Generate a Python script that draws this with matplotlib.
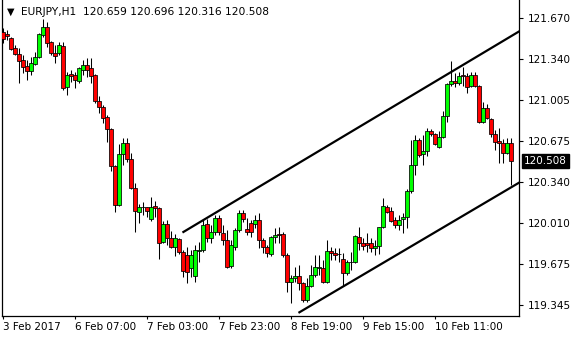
import numpy as np
import matplotlib
matplotlib.use('Agg')
import matplotlib.pyplot as plt
import matplotlib.transforms as mtransforms

symbol = 'EURJPY,H1'

# hourly bars
opens = [121.557, 121.540, 121.508, 121.427, 121.378, 121.330, 121.281, 121.241, 121.297, 121.354,
         121.532, 121.597, 121.476, 121.387, 121.387, 121.443, 121.111, 121.216, 121.208, 121.160,
         121.249, 121.289, 121.265, 121.208, 120.998, 120.949, 120.868, 120.771, 120.471, 120.155,
         120.568, 120.657, 120.528, 120.293, 120.098, 120.139, 120.139, 120.041, 120.147, 120.130,
         119.855, 120.001, 119.887, 119.814, 119.879, 119.774, 119.750, 119.644, 119.579, 119.782,
         119.790, 120.001, 119.887, 119.936, 120.049, 119.928, 119.871, 119.660, 119.814, 119.952,
         120.090, 119.960, 120.009, 120.001, 120.033, 119.871, 119.814, 119.758, 119.895, 119.920,
         119.920, 119.750, 119.531, 119.563, 119.579, 119.523, 119.385, 119.498, 119.587, 119.644,
         119.644, 119.531, 119.782, 119.766, 119.758, 119.717, 119.604, 119.693, 119.693, 119.895,
         119.847, 119.847, 119.847, 119.806, 119.822, 119.976, 120.139, 120.106, 120.033, 119.993,
         120.041, 120.058, 120.268, 120.479, 120.681, 120.568, 120.592, 120.754, 120.730, 120.625,
         120.706, 120.876, 121.135, 121.160, 121.143, 121.208, 121.200, 121.119, 121.208, 121.119,
         120.827, 120.941, 120.852, 120.730, 120.673, 120.657, 120.576, 120.659]
highs = [121.589, 121.573, 121.516, 121.451, 121.427, 121.370, 121.330, 121.354, 121.395, 121.549,
         121.662, 121.638, 121.484, 121.451, 121.476, 121.476, 121.233, 121.249, 121.233, 121.273,
         121.330, 121.346, 121.346, 121.216, 121.038, 120.965, 120.884, 120.779, 120.479, 120.649,
         120.698, 120.698, 120.576, 120.333, 120.163, 120.179, 120.141, 120.220, 120.187, 120.139,
         120.025, 120.033, 119.944, 119.920, 119.887, 119.790, 119.814, 119.790, 119.831, 119.855,
         120.033, 120.041, 119.993, 120.074, 120.074, 119.993, 119.952, 119.871, 119.968, 120.114,
         120.114, 120.049, 120.033, 120.074, 120.090, 119.887, 119.831, 119.904, 119.968, 119.976,
         119.936, 119.766, 119.587, 119.652, 119.669, 119.531, 119.563, 119.669, 119.750, 119.750,
         119.709, 119.871, 119.814, 119.806, 119.806, 119.766, 119.709, 119.774, 119.912, 119.976,
         119.887, 119.928, 119.887, 119.871, 119.976, 120.211, 120.155, 120.139, 120.058, 120.074,
         120.090, 120.284, 120.681, 120.722, 120.698, 120.722, 120.779, 120.771, 120.738, 120.754,
         120.916, 121.143, 121.322, 121.224, 121.233, 121.273, 121.224, 121.233, 121.233, 121.127,
         120.989, 120.973, 120.860, 120.763, 120.779, 120.690, 120.698, 120.696]
lows = [121.468, 121.492, 121.411, 121.370, 121.143, 121.224, 121.168, 121.208, 121.289, 121.346,
        121.516, 121.435, 121.370, 121.305, 121.370, 121.087, 121.046, 121.151, 121.103, 121.143,
        121.208, 121.192, 121.143, 120.981, 120.900, 120.819, 120.665, 120.430, 120.098, 120.147,
        120.479, 120.503, 120.284, 119.936, 120.009, 120.074, 120.058, 120.025, 120.058, 119.717,
        119.847, 119.831, 119.806, 119.741, 119.758, 119.571, 119.523, 119.571, 119.531, 119.693,
        119.774, 119.855, 119.847, 119.912, 119.912, 119.831, 119.644, 119.644, 119.790, 119.936,
        120.017, 119.912, 119.895, 119.968, 119.806, 119.766, 119.733, 119.741, 119.847, 119.847,
        119.733, 119.450, 119.361, 119.531, 119.466, 119.369, 119.369, 119.490, 119.571, 119.587,
        119.523, 119.523, 119.709, 119.709, 119.693, 119.498, 119.587, 119.628, 119.685, 119.790,
        119.790, 119.774, 119.774, 119.750, 119.758, 119.968, 120.090, 120.017, 119.968, 119.952,
        119.928, 119.968, 120.252, 120.398, 120.544, 120.479, 120.552, 120.714, 120.641, 120.617,
        120.698, 120.827, 121.119, 121.111, 121.127, 121.119, 121.062, 121.111, 121.111, 120.819,
        120.819, 120.852, 120.706, 120.600, 120.495, 120.495, 120.568, 120.316]
closes = [121.500, 121.524, 121.419, 121.378, 121.322, 121.273, 121.241, 121.305, 121.354, 121.540,
          121.597, 121.468, 121.387, 121.362, 121.451, 121.103, 121.208, 121.200, 121.168, 121.265,
          121.289, 121.249, 121.200, 120.998, 120.949, 120.860, 120.771, 120.471, 120.155, 120.568,
          120.657, 120.528, 120.293, 120.106, 120.139, 120.139, 120.106, 120.139, 120.130, 119.847,
          120.001, 119.887, 119.814, 119.887, 119.774, 119.620, 119.612, 119.750, 119.790, 119.790,
          119.993, 119.887, 119.936, 120.049, 119.936, 119.871, 119.652, 119.831, 119.952, 120.090,
          120.041, 119.936, 119.936, 120.033, 119.871, 119.814, 119.766, 119.895, 119.912, 119.912,
          119.750, 119.531, 119.563, 119.579, 119.523, 119.385, 119.498, 119.587, 119.652, 119.652,
          119.531, 119.782, 119.766, 119.750, 119.758, 119.604, 119.693, 119.693, 119.904, 119.847,
          119.822, 119.831, 119.806, 119.822, 119.976, 120.147, 120.098, 120.025, 119.993, 120.033,
          120.058, 120.268, 120.479, 120.681, 120.560, 120.592, 120.754, 120.730, 120.649, 120.706,
          120.876, 121.135, 121.160, 121.143, 121.200, 121.200, 121.111, 121.208, 121.119, 120.827,
          120.941, 120.860, 120.730, 120.665, 120.657, 120.576, 120.657, 120.508]

xtick_bars = [0, 18, 36, 54, 72, 90, 108]
xtick_labels = ['3 Feb 2017', '6 Feb 07:00', '7 Feb 03:00', '7 Feb 23:00',
                '8 Feb 19:00', '9 Feb 15:00', '10 Feb 11:00']
ytick_values = [121.670, 121.340, 121.005, 120.675, 120.340, 120.010, 119.675, 119.345]

# channel lines (bar index, price)
upper_bars = [45.1, 129.0]
upper_prices = [119.936, 121.561]
lower_bars = [74.1, 129.3]
lower_prices = [119.285, 120.341]

W, H = 580, 340
fig = plt.figure(figsize=(W / 100, H / 100), dpi=100)
ax = fig.add_axes([2 / W, 24 / H, 517 / W, 316 / H])

o = np.array(opens)
c = np.array(closes)
x = np.arange(len(o))
bull = c >= o

ax.vlines(x, lows, highs, color='black', lw=0.75, zorder=2)
body_colors = np.where(bull, '#00ff00', '#ff0000')
ax.bar(x, np.abs(c - o), bottom=np.minimum(o, c), width=0.8,
       color=body_colors, edgecolor='black', linewidth=0.55, zorder=3)

ax.plot(upper_bars, upper_prices, color='black', lw=1.6, zorder=4)
ax.plot(lower_bars, lower_prices, color='black', lw=1.6, zorder=4)

ax.set_xlim(-0.25, 129)
ax.set_ylim(119.255, 121.816)

ax.spines['top'].set_visible(False)
for s in ['left', 'right', 'bottom']:
    ax.spines[s].set_color('black')
    ax.spines[s].set_linewidth(0.9)

ax.yaxis.tick_right()
ax.set_yticks(ytick_values)
ax.set_yticklabels(['%.3f' % v for v in ytick_values])
ax.set_xticks(xtick_bars)
ax.set_xticklabels(xtick_labels, ha='left')
ax.tick_params(axis='y', direction='out', length=3, width=0.8, pad=3, labelsize=7.5, colors='black')
ax.tick_params(axis='x', direction='out', length=2.5, width=0.8, pad=2, labelsize=7.5, colors='black')

# current price tag
trans = mtransforms.blended_transform_factory(ax.transAxes, ax.transData)
ax.text(1.0 + 5 / 517, closes[-1], '%.3f' % closes[-1], transform=trans,
        color='white', fontsize=7.5, va='center', ha='left',
        bbox=dict(facecolor='black', edgecolor='black', pad=1.5), zorder=5, clip_on=False)

# header
fig.text(10.5 / W, 1 - 12 / H, '\u25bc', fontsize=7, ha='center', va='center')
fig.text(21 / W, 1 - 12 / H, '%s  %.3f %.3f %.3f %.3f' % (symbol, opens[-1], highs[-1], lows[-1], closes[-1]),
         fontsize=7.7, ha='left', va='center')

fig.savefig('out.png', dpi=100)
